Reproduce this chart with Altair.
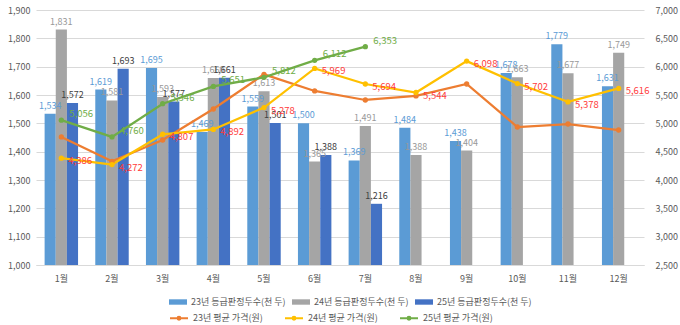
import altair as alt
import pandas as pd

months = ["1월", "2월", "3월", "4월", "5월", "6월", "7월", "8월", "9월", "10월", "11월", "12월"]

bar_names = ["23년 등급판정두수(천 두)", "24년 등급판정두수(천 두)", "25년 등급판정두수(천 두)"]
heads23 = [1534, 1619, 1695, 1469, 1559, 1500, 1369, 1484, 1438, 1678, 1779, 1631]
heads24 = [1831, 1581, 1593, 1660, 1613, 1365, 1491, 1388, 1404, 1663, 1677, 1749]
heads25 = [1572, 1693, 1577, 1661, 1501, 1388, 1216]

line_names = ["23년 평균 가격(원)", "24년 평균 가격(원)", "25년 평균 가격(원)"]
price23 = [4760, 4330, 4706, 5253, 5865, 5571, 5412, 5483, 5694, 4935, 4988, 4882]
price24 = [4386, 4272, 4807, 4892, 5278, 5969, 5694, 5544, 6098, 5702, 5378, 5616]
price25 = [5056, 4760, 5346, 5651, 5812, 6112, 6353]

bar_colors = ["#5B9BD5", "#A5A5A5", "#4472C4"]
bar_label_colors = ["#5B9BD5", "#999999", "#404040"]
line_colors = ["#ED7D31", "#FFC000", "#70AD47"]

FONT = "Noto Sans CJK KR"

bar_rows = []
for name, vals in zip(bar_names, [heads23, heads24, heads25]):
    for m, v in zip(months, vals):
        bar_rows.append({"month": m, "series": name, "value": v})
bars_df = pd.DataFrame(bar_rows)

line_rows = []
for name, vals in zip(line_names, [price23, price24, price25]):
    for m, v in zip(months, vals):
        line_rows.append({"month": m, "series": name, "value": v})
lines_df = pd.DataFrame(line_rows)

x_axis = alt.Axis(title=None, labelAngle=0, ticks=False, domainColor="#D9D9D9",
                  labelColor="#595959", labelFontSize=9, labelFont=FONT, labelPadding=9)
x_scale = alt.Scale(domain=months, paddingInner=0.34, paddingOuter=0.17)
x_enc = alt.X("month:N", sort=months, scale=x_scale, axis=x_axis)
xoff = alt.XOffset("series:N", scale=alt.Scale(domain=bar_names))

y_left_scale = alt.Scale(domain=[1000, 1900], nice=False, zero=False)
y_left_axis = alt.Axis(title=None, orient="left", values=list(range(1000, 1901, 100)),
                       labelExpr="format(datum.value, ',')",
                       grid=True, gridColor="#D9D9D9", gridWidth=1, domain=False, ticks=False,
                       labelColor="#595959", labelFontSize=9, labelFont=FONT, labelPadding=6)

y_right_scale = alt.Scale(domain=[2500, 7000], nice=False, zero=False)
y_right_axis = alt.Axis(title=None, orient="right", values=list(range(2500, 7001, 500)),
                        labelExpr="format(datum.value, ',')",
                        grid=False, domain=False, ticks=False, labelColor="#595959",
                        labelFontSize=9, labelFont=FONT, labelPadding=11)

bars = alt.Chart(bars_df).mark_bar().encode(
    x=x_enc,
    xOffset=xoff,
    y=alt.Y("value:Q", scale=y_left_scale, axis=y_left_axis),
    y2=alt.datum(1000),
    color=alt.Color("series:N", scale=alt.Scale(domain=bar_names, range=bar_colors),
                    legend=alt.Legend(title=None, orient="none", legendX=133, legendY=283,
                                      direction="horizontal", columns=3, columnPadding=6,
                                      symbolType="M-1,-0.3H1V0.3H-1Z", symbolSize=324,
                                      labelFont=FONT, labelFontSize=9, labelColor="#595959",
                                      labelOffset=4, symbolStrokeWidth=0)),
)

layers = [bars]
for name, col in zip(bar_names, bar_label_colors):
    layers.append(
        alt.Chart(bars_df).transform_filter(alt.datum.series == name)
        .mark_text(dy=-8, fontSize=9, font=FONT, color=col)
        .encode(x=x_enc, xOffset=xoff,
                y=alt.Y("value:Q", scale=y_left_scale, axis=None),
                text=alt.Text("value:Q", format=","))
    )

line_scale = alt.Scale(domain=line_names, range=line_colors)
lines = alt.Chart(lines_df).mark_line(strokeWidth=2.25).encode(
    x=x_enc,
    y=alt.Y("value:Q", scale=y_right_scale, axis=y_right_axis),
    color=alt.Color("series:N", scale=line_scale,
                    legend=alt.Legend(title=None, orient="none", legendX=133, legendY=298,
                                      direction="horizontal", columns=3, columnPadding=18,
                                      symbolType="M-1,0H1M0.16,0A0.16,0.16,0,1,1,-0.16,0A0.16,0.16,0,1,1,0.16,0Z",
                                      symbolSize=324, symbolStrokeWidth=2,
                                      labelFont=FONT, labelFontSize=9, labelColor="#595959",
                                      labelOffset=4)),
)
points = alt.Chart(lines_df).mark_point(filled=True, size=28, opacity=1).encode(
    x=x_enc,
    y=alt.Y("value:Q", scale=y_right_scale, axis=None),
    color=alt.Color("series:N", scale=line_scale, legend=None),
)
layers += [lines, points]

t24 = alt.Chart(lines_df).transform_filter(alt.datum.series == line_names[1]).mark_text(
    align="left", dx=7, dy=3, fontSize=9.5, font=FONT, color="#FF3B3B"
).encode(
    x=x_enc,
    y=alt.Y("value:Q", scale=y_right_scale, axis=None),
    text=alt.Text("value:Q", format=","),
)
t25 = alt.Chart(lines_df).transform_filter(alt.datum.series == line_names[2]).mark_text(
    align="left", dx=8, dy=-6, fontSize=9.5, font=FONT, color="#70AD47"
).encode(
    x=x_enc,
    y=alt.Y("value:Q", scale=y_right_scale, axis=None),
    text=alt.Text("value:Q", format=","),
)
layers += [t24, t25]

chart = alt.layer(*layers).resolve_scale(
    y="independent", color="independent"
).properties(
    width=608, height=255,
    autosize=alt.AutoSizeParams(type="none"),
    padding={"left": 36, "top": 10, "right": 36, "bottom": 60},
    background="white",
).configure_view(stroke=None)

chart.save("out.html", embed_options={"renderer": "svg", "actions": False})
